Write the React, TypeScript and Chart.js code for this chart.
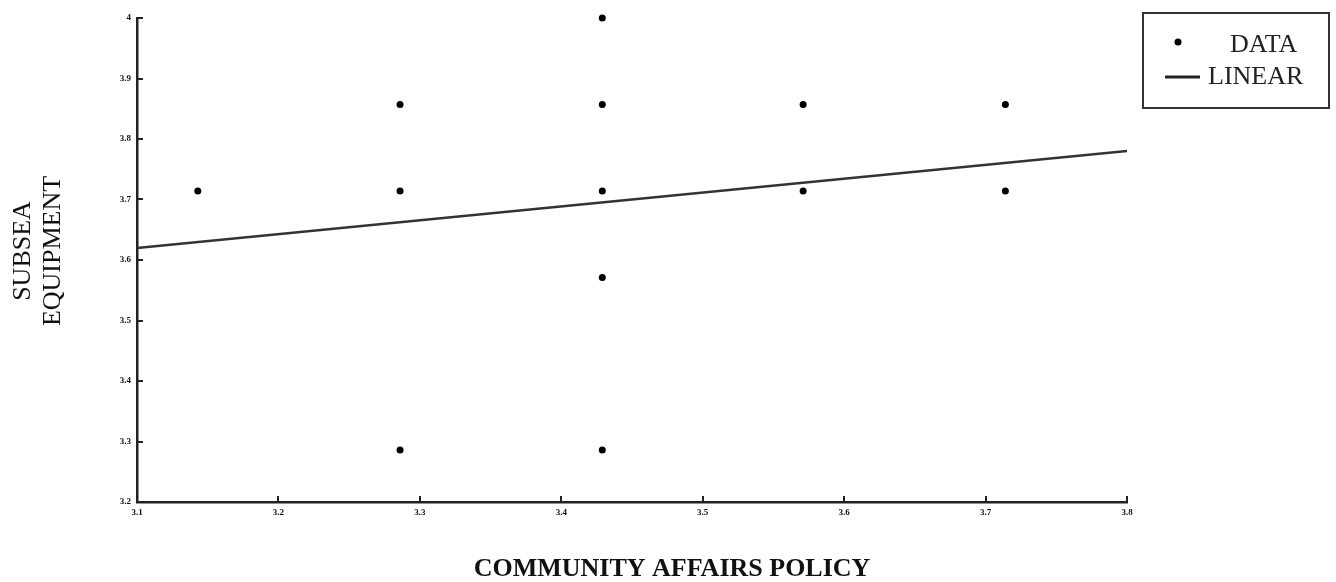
import React, { useEffect, useRef } from "react";
import { Chart, registerables } from "chart.js";

Chart.register(...registerables);

// Observed survey scores
const communityAffairs = [3.143, 3.286, 3.286, 3.286, 3.429, 3.429, 3.429, 3.429, 3.429, 3.571, 3.571, 3.714, 3.714];
const subseaEquipment = [3.714, 3.857, 3.714, 3.286, 4.0, 3.857, 3.714, 3.571, 3.286, 3.857, 3.714, 3.857, 3.714];

// Fitted linear trend at the ends of the x range
const fitX = [3.1, 3.8];
const fitY = [3.62, 3.78];

const xTicks = [3.1, 3.2, 3.3, 3.4, 3.5, 3.6, 3.7, 3.8];
const yTicks = [3.2, 3.3, 3.4, 3.5, 3.6, 3.7, 3.8, 3.9, 4.0];

const xTitle = "COMMUNITY AFFAIRS POLICY";
const yTitleLines = ["SUBSEA", "EQUIPMENT"];
const legendLabels = ["DATA", "LINEAR"];

const SERIF = '"Liberation Serif", "Times New Roman", serif';
const fmt = (v: number) => String(+v.toFixed(1));

// Draws inward tick marks, axis titles and the boxed legend
const decorPlugin = {
  id: "decor",
  afterDraw(chart: any) {
    const { ctx, chartArea } = chart;
    const xs = chart.scales.x;
    const ys = chart.scales.y;
    ctx.save();
    ctx.strokeStyle = "#222";
    ctx.lineWidth = 2;
    ctx.beginPath();
    for (const v of yTicks) {
      const py = Math.round(ys.getPixelForValue(v));
      ctx.moveTo(chartArea.left, py);
      ctx.lineTo(chartArea.left + 6, py);
    }
    for (const v of xTicks) {
      const px = Math.round(xs.getPixelForValue(v));
      ctx.moveTo(px, chartArea.bottom);
      ctx.lineTo(px, chartArea.bottom - 6);
    }
    ctx.stroke();

    // x-axis title
    ctx.fillStyle = "#111";
    ctx.font = `bold 26px ${SERIF}`;
    ctx.textAlign = "center";
    ctx.textBaseline = "middle";
    ctx.fillText(xTitle, 672, 569);

    // y-axis title, rotated
    ctx.save();
    ctx.translate(37, 251);
    ctx.rotate(-Math.PI / 2);
    ctx.font = `26px ${SERIF}`;
    ctx.fillText(yTitleLines[0], 0, -14);
    ctx.fillText(yTitleLines[1], 0, 16);
    ctx.restore();

    // legend
    ctx.strokeStyle = "#333";
    ctx.lineWidth = 2;
    ctx.strokeRect(1143, 13, 186, 95);
    ctx.fillStyle = "#000";
    ctx.beginPath();
    ctx.arc(1178, 42, 3.5, 0, Math.PI * 2);
    ctx.fill();
    ctx.strokeStyle = "#222";
    ctx.lineWidth = 3;
    ctx.beginPath();
    ctx.moveTo(1165, 77);
    ctx.lineTo(1200, 77);
    ctx.stroke();
    ctx.fillStyle = "#222";
    ctx.font = `26px ${SERIF}`;
    ctx.textAlign = "left";
    ctx.fillText(legendLabels[0], 1230, 45);
    ctx.fillText(legendLabels[1], 1208, 77);
    ctx.restore();
  },
};

export default function App() {
  const canvasRef = useRef<HTMLCanvasElement>(null);

  useEffect(() => {
    document.body.style.margin = "0";
    const canvas = canvasRef.current;
    if (!canvas) return;
    const chart = new Chart(canvas, {
      type: "scatter",
      data: {
        datasets: [
          {
            label: legendLabels[0],
            data: communityAffairs.map((x, i) => ({ x, y: subseaEquipment[i] })),
            backgroundColor: "#000",
            borderColor: "#000",
            pointRadius: 3.5,
            pointBorderWidth: 0,
            clip: false,
          } as any,
          {
            type: "line",
            label: legendLabels[1],
            data: fitX.map((x, i) => ({ x, y: fitY[i] })),
            borderColor: "#333",
            borderWidth: 2.5,
            pointRadius: 0,
            fill: false,
          } as any,
        ],
      },
      options: {
        animation: false,
        responsive: false,
        maintainAspectRatio: false,
        layout: { padding: { left: 0, top: 18, right: 209, bottom: 0 } },
        plugins: { legend: { display: false }, tooltip: { enabled: false } },
        scales: {
          x: {
            type: "linear",
            min: 3.1,
            max: 3.8,
            afterBuildTicks: (s: any) => {
              s.ticks = xTicks.map((value) => ({ value }));
            },
            afterFit: (s: any) => {
              s.height = 80;
            },
            grid: { display: false, drawTicks: false },
            border: { display: true, color: "#222", width: 2.5 },
            ticks: {
              padding: 5,
              color: "#111",
              font: { size: 9, weight: "bold", family: SERIF },
              callback: (v: any) => fmt(Number(v)),
              maxRotation: 0,
              autoSkip: false,
            },
          },
          y: {
            type: "linear",
            min: 3.2,
            max: 4.0,
            afterBuildTicks: (s: any) => {
              s.ticks = yTicks.map((value) => ({ value }));
            },
            afterFit: (s: any) => {
              s.width = 137;
            },
            grid: { display: false, drawTicks: false },
            border: { display: true, color: "#222", width: 2.5 },
            ticks: {
              padding: 6,
              color: "#111",
              font: { size: 9, weight: "bold", family: SERIF },
              callback: (v: any) => fmt(Number(v)),
              autoSkip: false,
            },
          },
        },
      },
      plugins: [decorPlugin],
    });
    return () => chart.destroy();
  }, []);

  return (
    <div style={{ position: "fixed", left: 0, top: 0, width: 1336, height: 582, background: "#fff" }}>
      <canvas ref={canvasRef} width={1336} height={582} />
    </div>
  );
}
